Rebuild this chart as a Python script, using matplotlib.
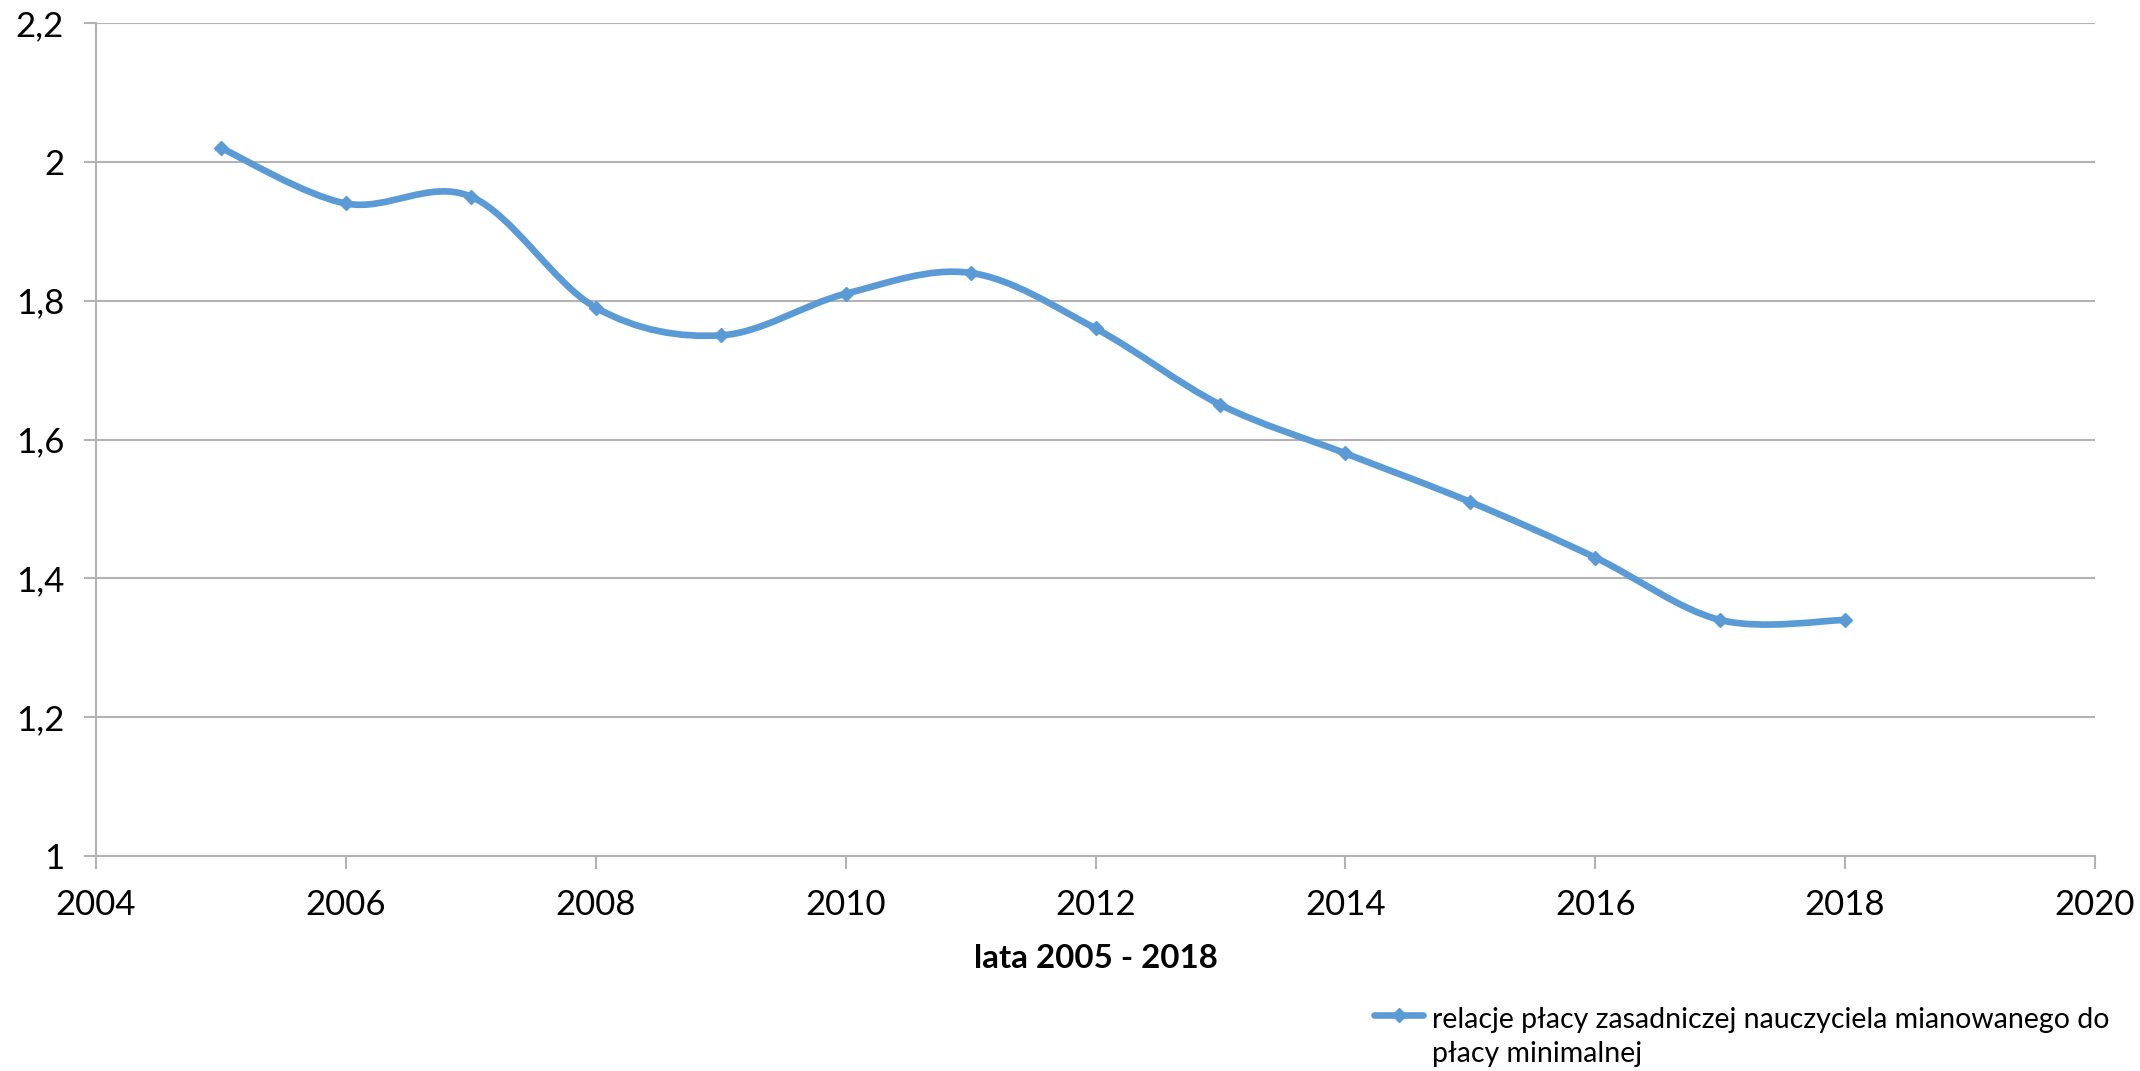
import matplotlib
matplotlib.use("Agg")
import matplotlib.pyplot as plt
from matplotlib.path import Path
from matplotlib.patches import PathPatch
from matplotlib.lines import Line2D
from matplotlib.ticker import FuncFormatter, MultipleLocator

years = [2005, 2006, 2007, 2008, 2009, 2010, 2011, 2012, 2013, 2014, 2015, 2016, 2017, 2018]
ratio = [2.02, 1.94, 1.95, 1.79, 1.75, 1.81, 1.84, 1.76, 1.65, 1.58, 1.51, 1.43, 1.34, 1.34]
series_label = "relacje płacy zasadniczej nauczyciela mianowanego do\npłacy minimalnej"
x_label = "lata 2005 - 2018"

COLOR = "#5B9BD5"
GRID = "#B3B3B3"
FONT = ["Lato", "DejaVu Sans"]
plt.rcParams["font.family"] = FONT

W, H, DPI = 2140, 1071, 100
fig = plt.figure(figsize=(W / DPI, H / DPI), dpi=DPI)
L, R, T, B = 96, 2095, 23, 856
ax = fig.add_axes([L / W, 1 - B / H, (R - L) / W, (B - T) / H])

# Excel-like smoothed line: cubic Bezier segments (Catmull-Rom tangents)
pts = list(zip(years, ratio))
verts = [pts[0]]
codes = [Path.MOVETO]
n = len(pts)
for i in range(n - 1):
    p0 = pts[i - 1] if i > 0 else pts[i]
    p1 = pts[i]
    p2 = pts[i + 1]
    p3 = pts[i + 2] if i + 2 < n else pts[i + 1]
    c1 = (p1[0] + (p2[0] - p0[0]) / 6, p1[1] + (p2[1] - p0[1]) / 6)
    c2 = (p2[0] - (p3[0] - p1[0]) / 6, p2[1] - (p3[1] - p1[1]) / 6)
    verts += [c1, c2, p2]
    codes += [Path.CURVE4] * 3
LW = 4.8
patch = PathPatch(Path(verts, codes), facecolor="none", edgecolor=COLOR,
                  lw=LW, capstyle="round", joinstyle="round", zorder=3)
ax.add_patch(patch)
ax.plot(years, ratio, linestyle="none", marker="D", markersize=7.5,
        color=COLOR, zorder=4)

ax.set_xlim(2004, 2020)
ax.set_ylim(1, 2.2)
ax.xaxis.set_major_locator(MultipleLocator(2))
ax.yaxis.set_major_locator(MultipleLocator(0.2))

def comma_fmt(v, pos):
    s = f"{v:.1f}".rstrip("0").rstrip(".")
    return s.replace(".", ",")

ax.yaxis.set_major_formatter(FuncFormatter(comma_fmt))
ax.xaxis.set_major_formatter(FuncFormatter(lambda v, p: f"{int(round(v))}"))

ax.grid(axis="y", color=GRID, lw=1.5)
ax.set_axisbelow(True)
for s in ["top", "right"]:
    ax.spines[s].set_visible(False)
for s in ["left", "bottom"]:
    ax.spines[s].set_color(GRID)
    ax.spines[s].set_linewidth(1.5)
ax.tick_params(axis="both", colors=GRID, length=9, width=1.5, labelcolor="black",
               labelsize=25)
ax.tick_params(axis="y", pad=14)
ax.tick_params(axis="x", pad=14.5)
ax.set_xlabel(x_label, fontsize=23.8, fontweight="bold", labelpad=17)

# legend (bottom right, handle aligned with first text line)
lx0, lx1, ly = 1374 / W, 1423 / W, 1 - 1015 / H
fig.add_artist(Line2D([lx0, lx1], [ly, ly], transform=fig.transFigure, color=COLOR,
                      lw=LW, solid_capstyle="round"))
fig.add_artist(Line2D([(lx0 + lx1) / 2], [ly], transform=fig.transFigure, color=COLOR,
                      marker="D", markersize=7.5, linestyle="none"))
fig.text(1432 / W, 1 - 1062 / H, series_label, fontsize=20.5, va="baseline", ha="left",
         linespacing=1.37)

fig.savefig("out.png", dpi=DPI)
